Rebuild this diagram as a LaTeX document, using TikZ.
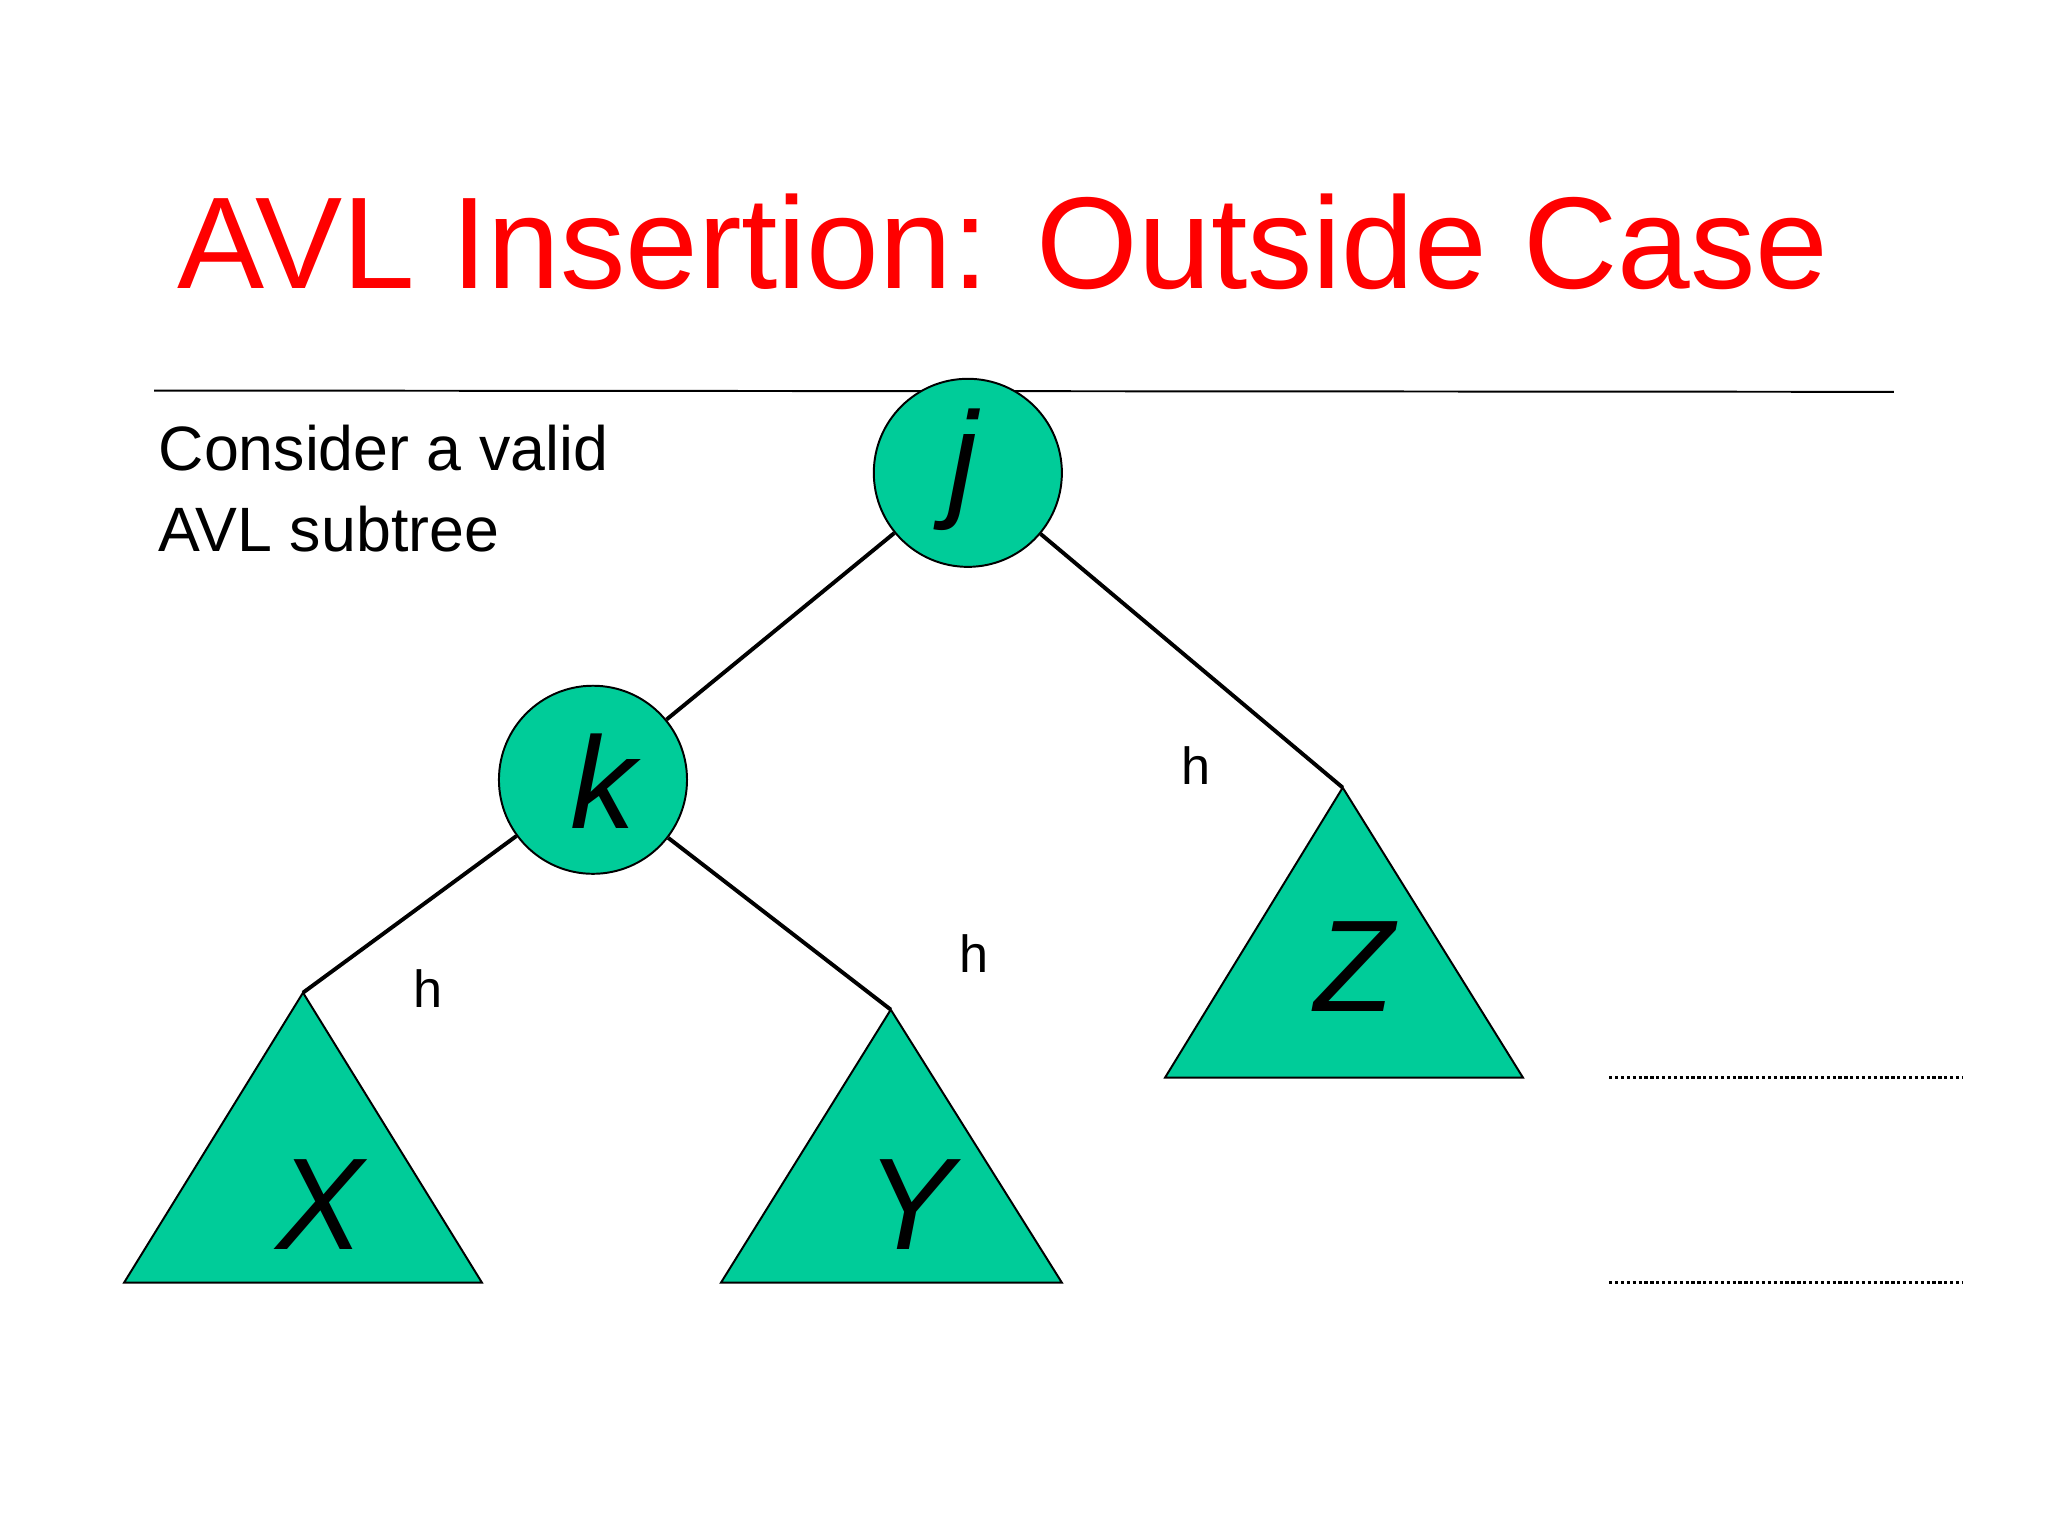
\documentclass[tikz,border=0pt]{standalone}
\usepackage{fontspec}
\setmainfont{Liberation Sans}
\definecolor{tg}{HTML}{00CC99}
\definecolor{tred}{HTML}{FF0000}
\begin{document}
\begin{tikzpicture}[x=1pt,y=-1pt,
  circ/.style={circle,draw=black,line width=1.5pt,fill=tg,minimum size=144pt,inner sep=0pt},
  tri/.style={draw=black,line width=1.5pt,fill=tg},
  edge/.style={line width=3pt},
  big/.style={font=\fontsize{100}{100}\selectfont\itshape},
  hl/.style={font=\fontsize{40}{40}\selectfont}]
\useasboundingbox (0,0) rectangle (1568,1176);
\node[text=tred,font=\fontsize{100}{100}\selectfont] (title) at (768,185) {AVL Insertion: Outside Case};
\draw[line width=1.5pt] (118,299) -- (1450,300);
\node[anchor=west,font=\fontsize{48}{62}\selectfont,align=left] (txt) at (118,374) {Consider a valid\\AVL subtree};
\coordinate (xa) at (232,760);
\coordinate (ya) at (682,773);
\coordinate (za) at (1028,603);
\node[circ] (j) at (741,362) {};
\node[circ] (k) at (454,597) {};
\draw[edge] (j) -- (k);
\draw[edge] (j) -- (za);
\draw[edge] (k) -- (xa);
\draw[edge] (k) -- (ya);
\node[big] (jl) at (737,360) {j};
\node[big] (kl) at (462,598) {k};
\draw[tri] (xa) -- (95,982) -- (369,982) -- cycle;
\draw[tri] (ya) -- (552,982) -- (813,982) -- cycle;
\draw[tri] (za) -- (892,825) -- (1166,825) -- cycle;
\node[big] (xl) at (245,922) {X};
\node[big] (yl) at (697,922) {Y};
\node[big] (zl) at (1037,740) {Z};
\node[hl] (h1) at (328,757) {h};
\node[hl] (h2) at (746,730) {h};
\node[hl] (h3) at (916,586) {h};
\draw[line width=2.5pt,dotted] (1232,825) -- (1503,825);
\draw[line width=2.5pt,dotted] (1232,982) -- (1503,982);
\end{tikzpicture}
\end{document}
